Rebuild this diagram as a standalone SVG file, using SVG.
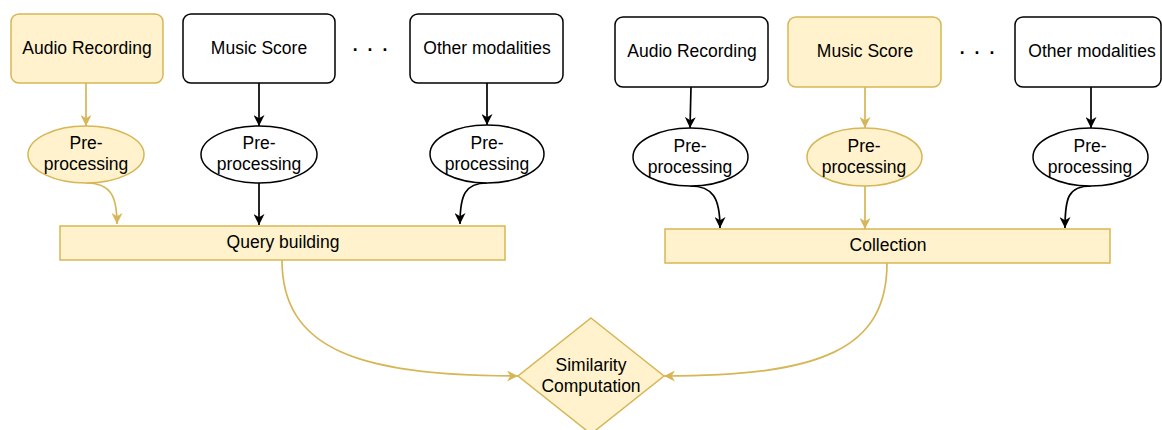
<svg xmlns="http://www.w3.org/2000/svg" width="1162" height="430" viewBox="0 0 1162 430">
<style>
text{font-family:"Liberation Sans",Arial,sans-serif;font-size:17.5px;fill:#000;text-anchor:middle}
.y{fill:#fff2cc;stroke:#d6b656;stroke-width:1.5}
.w{fill:#fff;stroke:#000;stroke-width:1.5}
.cb{fill:none;stroke:#000;stroke-width:1.7}
.cy{fill:none;stroke:#d6b656;stroke-width:1.7}
.dots{letter-spacing:10px;font-weight:bold}
</style>
<defs>
<marker id="ab" viewBox="0 0 10 10" refX="10" refY="5" markerWidth="11" markerHeight="11" markerUnits="userSpaceOnUse" orient="auto"><path d="M0,0 L10,5 L0,10 L3,5 z" fill="#000"/></marker>
<marker id="ay" viewBox="0 0 10 10" refX="10" refY="5" markerWidth="11" markerHeight="11" markerUnits="userSpaceOnUse" orient="auto"><path d="M0,0 L10,5 L0,10 L3,5 z" fill="#d6b656"/></marker>
</defs>
<g id="connectors">
<path class="cy" d="M86 83 L86 126" marker-end="url(#ay)"/>
<path class="cb" d="M259 83 L259 126" marker-end="url(#ab)"/>
<path class="cb" d="M487 83 L487 125" marker-end="url(#ab)"/>
<path class="cb" d="M691 87 L690 128" marker-end="url(#ab)"/>
<path class="cy" d="M865 87 L865 128" marker-end="url(#ay)"/>
<path class="cb" d="M1091 87 L1091 128" marker-end="url(#ab)"/>
<path class="cy" d="M86 183 C110 183 117 195 117 224" marker-end="url(#ay)"/>
<path class="cb" d="M259 183 L259 225" marker-end="url(#ab)"/>
<path class="cb" d="M487 183 C465 183 460 195 460 224" marker-end="url(#ab)"/>
<path class="cb" d="M690 186 C713 186 720 198 720 228" marker-end="url(#ab)"/>
<path class="cy" d="M865 186 L865 229" marker-end="url(#ay)"/>
<path class="cb" d="M1091 186 C1068 186 1065 198 1065 228" marker-end="url(#ab)"/>
<path class="cy" d="M282 260 C282 350 360 376 518 376" marker-end="url(#ay)"/>
<path class="cy" d="M887 263 C887 350 820 376 664 376" marker-end="url(#ay)"/>
</g>
<g id="q-audio"><rect class="y" x="11" y="14" width="152" height="69" rx="8"/><text x="87" y="54">Audio Recording</text></g>
<g id="q-score"><rect class="w" x="183" y="14" width="152" height="69" rx="8"/><text x="259" y="54">Music Score</text></g>
<g id="q-dots"><text class="dots" x="375" y="51">...</text></g>
<g id="q-other"><rect class="w" x="410" y="14" width="153" height="69" rx="8"/><text x="487" y="54">Other modalities</text></g>
<g id="q-pre1"><ellipse class="y" cx="86" cy="154.5" rx="58" ry="28.5"/><text x="86" y="149">Pre-</text><text x="86" y="170">processing</text></g>
<g id="q-pre2"><ellipse class="w" cx="259" cy="154.5" rx="58" ry="28.5"/><text x="259" y="149">Pre-</text><text x="259" y="170">processing</text></g>
<g id="q-pre3"><ellipse class="w" cx="487" cy="154" rx="57" ry="29"/><text x="487" y="149">Pre-</text><text x="487" y="170">processing</text></g>
<g id="query"><rect class="y" x="60" y="226" width="445" height="34"/><text x="283" y="248">Query building</text></g>
<g id="c-audio"><rect class="w" x="615" y="17" width="153" height="70" rx="8"/><text x="692" y="57">Audio Recording</text></g>
<g id="c-score"><rect class="y" x="788" y="17" width="153" height="70" rx="8"/><text x="865" y="57">Music Score</text></g>
<g id="c-dots"><text class="dots" x="982" y="54">...</text></g>
<g id="c-other"><rect class="w" x="1015" y="17" width="146" height="70" rx="8"/><text x="1092" y="57">Other modalities</text></g>
<g id="c-pre1"><ellipse class="w" cx="690.5" cy="157" rx="57.5" ry="29"/><text x="690" y="152">Pre-</text><text x="690" y="173">processing</text></g>
<g id="c-pre2"><ellipse class="y" cx="864.5" cy="157" rx="57.5" ry="29"/><text x="864" y="152">Pre-</text><text x="864" y="173">processing</text></g>
<g id="c-pre3"><ellipse class="w" cx="1090.5" cy="157" rx="57.5" ry="29"/><text x="1090" y="152">Pre-</text><text x="1090" y="173">processing</text></g>
<g id="collection"><rect class="y" x="665" y="229" width="445" height="34"/><text x="888" y="251">Collection</text></g>
<g id="similarity"><path class="y" d="M591 318 L664 376 L591 434 L518 376 Z"/><text x="591" y="371">Similarity</text><text x="591" y="392">Computation</text></g>
</svg>
